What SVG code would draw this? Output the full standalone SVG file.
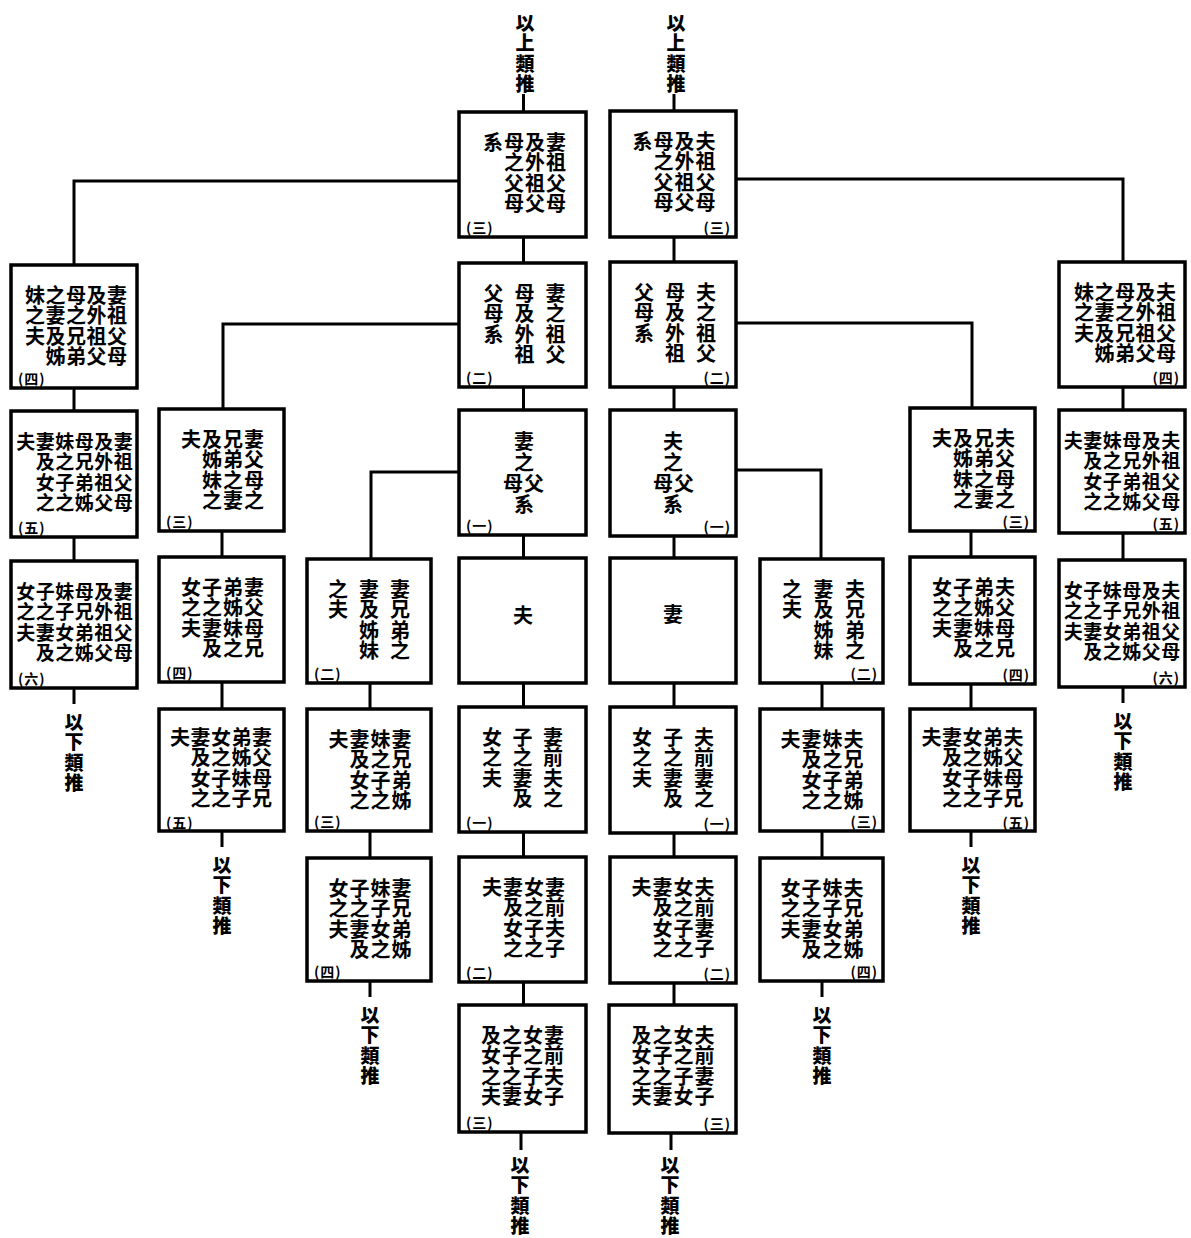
<svg xmlns="http://www.w3.org/2000/svg" width="1191" height="1238" viewBox="0 0 1191 1238">
<style>
.bg{fill:#fff}
.box{fill:#fff;stroke:#000;stroke-width:3.5}
.con{fill:none;stroke:#000;stroke-width:3}
.t{font-family:"Noto Sans CJK TC","Noto Sans CJK SC",sans-serif;font-size:20px;font-weight:700;text-anchor:middle;dominant-baseline:central;fill:#000}
.t6{font-size:19px}
.note{font-family:"Noto Sans CJK TC","Noto Sans CJK SC",sans-serif;font-size:19px;font-weight:900;text-anchor:middle;dominant-baseline:central;fill:#000}
.lab{font-family:"Noto Sans CJK TC","Noto Sans CJK SC",sans-serif;font-size:14px;font-weight:700;dominant-baseline:central;letter-spacing:1px;fill:#000}
.l{text-anchor:start}
.r{text-anchor:end}
</style>
<rect class="bg" x="0" y="0" width="1191" height="1238"/>

<g id="connectors">
<path class="con" d="M523.5 94V112 M523.5 237V263 M523.5 387V410 M523.5 535V558 M523.5 683V707 M523.5 832V857 M523.5 982V1005 M521 1132V1150"/>
<path class="con" d="M674 94V111 M674 237V262 M674 387V410 M674 536V558 M674 683V707 M674 833V857 M674 983V1005 M671 1133V1150"/>
<path class="con" d="M459 181H74V265 M736 179H1123V262 M459 324H223V409 M736 323H972V408 M459 472H371V559 M736 470H821V559"/>
<path class="con" d="M74 388V411 M74 537V561 M74 688V704 M1123 387V410 M1123 533V560 M1123 687V703"/>
<path class="con" d="M222 531V557 M222 682V709 M222 831V847 M971 531V557 M971 684V709 M971 831V847"/>
<path class="con" d="M370 683V709 M370 831V858 M370 981V997 M822 683V709 M822 831V858 M822 981V997"/>
</g>

<g id="notes">
<text class="note" x="525 525 525 525" y="21 41.5 62 82.5">以上類推</text>
<text class="note" x="676 676 676 676" y="21 41.5 62 82.5">以上類推</text>
<text class="note" x="74 74 74 74" y="720 740.5 761 781.5">以下類推</text>
<text class="note" x="1123 1123 1123 1123" y="719 739.5 760 780.5">以下類推</text>
<text class="note" x="222 222 222 222" y="863 883.5 904 924.5">以下類推</text>
<text class="note" x="971 971 971 971" y="863 883.5 904 924.5">以下類推</text>
<text class="note" x="370 370 370 370" y="1013 1033.5 1054 1074.5">以下類推</text>
<text class="note" x="822 822 822 822" y="1013 1033.5 1054 1074.5">以下類推</text>
<text class="note" x="520 520 520 520" y="1163 1183.5 1204 1224.5">以下類推</text>
<text class="note" x="670 670 670 670" y="1163 1183.5 1204 1224.5">以下類推</text>
</g>

<g id="D1"><rect class="box" x="459" y="112" width="127" height="125"/>
<text class="t" x="556 556 556 556 535 535 535 535 514 514 514 514 493" y="141 161.5 182 202.5 141 161.5 182 202.5 141 161.5 182 202.5 141">妻祖父母及外祖父母之父母系</text>
<text class="lab l" x="466" y="227">(三)</text></g>
<g id="E1"><rect class="box" x="610" y="111" width="126" height="126"/>
<text class="t" x="705.5 705.5 705.5 705.5 684.5 684.5 684.5 684.5 663.5 663.5 663.5 663.5 642.5" y="140 160.5 181 201.5 140 160.5 181 201.5 140 160.5 181 201.5 140">夫祖父母及外祖父母之父母系</text>
<text class="lab r" x="731" y="227">(三)</text></g>

<g id="D2"><rect class="box" x="459" y="263" width="127" height="124"/>
<text class="t" x="555.5 555.5 555.5 555.5 524.5 524.5 524.5 524.5 493.5 493.5 493.5" y="292 312.5 333 353.5 292 312.5 333 353.5 292 312.5 333">妻之祖父母及外祖父母系</text>
<text class="lab l" x="466" y="377">(二)</text></g>
<g id="E2"><rect class="box" x="610" y="262" width="126" height="125"/>
<text class="t" x="706 706 706 706 675 675 675 675 644 644 644" y="291 311.5 332 352.5 291 311.5 332 352.5 291 311.5 332">夫之祖父母及外祖父母系</text>
<text class="lab r" x="731" y="377">(二)</text></g>

<g id="D3"><rect class="box" x="459" y="410" width="127" height="125"/>
<text class="t" x="524 524 534 513 524" y="440 461 482 482 503">妻之父母系</text>
<text class="lab l" x="466" y="525">(一)</text></g>
<g id="E3"><rect class="box" x="610" y="410" width="126" height="126"/>
<text class="t" x="673 673 684 663 673" y="440 461 482 482 503">夫之父母系</text>
<text class="lab r" x="731" y="526">(一)</text></g>

<g id="D4"><rect class="box" x="459" y="558" width="127" height="125"/>
<text class="t" x="523" y="614">夫</text></g>
<g id="E4"><rect class="box" x="610" y="558" width="126" height="125"/>
<text class="t" x="673" y="613">妻</text></g>

<g id="D5"><rect class="box" x="459" y="707" width="127" height="125"/>
<text class="t" x="553 553 553 553 522.5 522.5 522.5 522.5 492 492 492" y="736 756.5 777 797.5 736 756.5 777 797.5 736 756.5 777">妻前夫之子之妻及女之夫</text>
<text class="lab l" x="466" y="822">(一)</text></g>
<g id="E5"><rect class="box" x="610" y="707" width="126" height="126"/>
<text class="t" x="704 704 704 704 673 673 673 673 642 642 642" y="736 756.5 777 797.5 736 756.5 777 797.5 736 756.5 777">夫前妻之子之妻及女之夫</text>
<text class="lab r" x="731" y="823">(一)</text></g>

<g id="D6"><rect class="box" x="459" y="857" width="127" height="125"/>
<text class="t" x="555 555 555 555 534 534 534 534 513 513 513 513 492" y="886 906.5 927 947.5 886 906.5 927 947.5 886 906.5 927 947.5 886">妻前夫子女之子之妻及女之夫</text>
<text class="lab l" x="466" y="972">(二)</text></g>
<g id="E6"><rect class="box" x="610" y="857" width="126" height="126"/>
<text class="t" x="704.5 704.5 704.5 704.5 683.5 683.5 683.5 683.5 662.5 662.5 662.5 662.5 641.5" y="886 906.5 927 947.5 886 906.5 927 947.5 886 906.5 927 947.5 886">夫前妻子女之子之妻及女之夫</text>
<text class="lab r" x="731" y="973">(二)</text></g>

<g id="D7"><rect class="box" x="459" y="1005" width="127" height="127"/>
<text class="t" x="554 554 554 554 533 533 533 533 512 512 512 512 491 491 491 491" y="1034 1054.5 1075 1095.5 1034 1054.5 1075 1095.5 1034 1054.5 1075 1095.5 1034 1054.5 1075 1095.5">妻前夫子女之子女之子之妻及女之夫</text>
<text class="lab l" x="466" y="1122">(三)</text></g>
<g id="E7"><rect class="box" x="609" y="1005" width="127" height="128"/>
<text class="t" x="704.5 704.5 704.5 704.5 683.5 683.5 683.5 683.5 662.5 662.5 662.5 662.5 641.5 641.5 641.5 641.5" y="1034 1054.5 1075 1095.5 1034 1054.5 1075 1095.5 1034 1054.5 1075 1095.5 1034 1054.5 1075 1095.5">夫前妻子女之子女之子之妻及女之夫</text>
<text class="lab r" x="731" y="1123">(三)</text></g>

<g id="A2"><rect class="box" x="11" y="265" width="126" height="123"/>
<text class="t" x="117 117 117 117 96.5 96.5 96.5 96.5 76 76 76 76 55.5 55.5 55.5 55.5 35 35 35" y="294 314.5 335 355.5 294 314.5 335 355.5 294 314.5 335 355.5 294 314.5 335 355.5 294 314.5 335">妻祖父母及外祖父母之兄弟之妻及姊妹之夫</text>
<text class="lab l" x="18" y="378">(四)</text></g>
<g id="H2"><rect class="box" x="1059" y="262" width="126" height="125"/>
<text class="t" x="1166 1166 1166 1166 1145.5 1145.5 1145.5 1145.5 1125 1125 1125 1125 1104.5 1104.5 1104.5 1104.5 1084 1084 1084" y="291 311.5 332 352.5 291 311.5 332 352.5 291 311.5 332 352.5 291 311.5 332 352.5 291 311.5 332">夫祖父母及外祖父母之兄弟之妻及姊妹之夫</text>
<text class="lab r" x="1180" y="377">(四)</text></g>

<g id="A3"><rect class="box" x="11" y="411" width="126" height="126"/>
<text class="t t6" x="123.25 123.25 123.25 123.25 103.75 103.75 103.75 103.75 84.25 84.25 84.25 84.25 64.75 64.75 64.75 64.75 45.25 45.25 45.25 45.25 25.75" y="440 460.5 481 501.5 440 460.5 481 501.5 440 460.5 481 501.5 440 460.5 481 501.5 440 460.5 481 501.5 440">妻祖父母及外祖父母兄弟姊妹之子之妻及女之夫</text>
<text class="lab l" x="18" y="527">(五)</text></g>
<g id="H3"><rect class="box" x="1059" y="410" width="126" height="123"/>
<text class="t t6" x="1170.75 1170.75 1170.75 1170.75 1151.25 1151.25 1151.25 1151.25 1131.75 1131.75 1131.75 1131.75 1112.25 1112.25 1112.25 1112.25 1092.75 1092.75 1092.75 1092.75 1073.25" y="439 459.5 480 500.5 439 459.5 480 500.5 439 459.5 480 500.5 439 459.5 480 500.5 439 459.5 480 500.5 439">夫祖父母及外祖父母兄弟姊妹之子之妻及女之夫</text>
<text class="lab r" x="1180" y="523">(五)</text></g>

<g id="A4"><rect class="box" x="11" y="561" width="126" height="127"/>
<text class="t t6" x="123.25 123.25 123.25 123.25 103.75 103.75 103.75 103.75 84.25 84.25 84.25 84.25 64.75 64.75 64.75 64.75 45.25 45.25 45.25 45.25 25.75 25.75 25.75" y="590 610.5 631 651.5 590 610.5 631 651.5 590 610.5 631 651.5 590 610.5 631 651.5 590 610.5 631 651.5 590 610.5 631">妻祖父母及外祖父母兄弟姊妹子女之子之妻及女之夫</text>
<text class="lab l" x="18" y="678">(六)</text></g>
<g id="H4"><rect class="box" x="1059" y="560" width="126" height="127"/>
<text class="t t6" x="1170.75 1170.75 1170.75 1170.75 1151.25 1151.25 1151.25 1151.25 1131.75 1131.75 1131.75 1131.75 1112.25 1112.25 1112.25 1112.25 1092.75 1092.75 1092.75 1092.75 1073.25 1073.25 1073.25" y="589 609.5 630 650.5 589 609.5 630 650.5 589 609.5 630 650.5 589 609.5 630 650.5 589 609.5 630 650.5 589 609.5 630">夫祖父母及外祖父母兄弟姊妹子女之子之妻及女之夫</text>
<text class="lab r" x="1180" y="677">(六)</text></g>

<g id="B3"><rect class="box" x="159" y="409" width="125" height="122"/>
<text class="t" x="254 254 254 254 233 233 233 233 212 212 212 212 191" y="438 458.5 479 499.5 438 458.5 479 499.5 438 458.5 479 499.5 438">妻父母之兄弟之妻及姊妹之夫</text>
<text class="lab l" x="166" y="521">(三)</text></g>
<g id="G3"><rect class="box" x="910" y="408" width="125" height="123"/>
<text class="t" x="1005 1005 1005 1005 984 984 984 984 963 963 963 963 942" y="437 457.5 478 498.5 437 457.5 478 498.5 437 457.5 478 498.5 437">夫父母之兄弟之妻及姊妹之夫</text>
<text class="lab r" x="1030" y="521">(三)</text></g>

<g id="B4"><rect class="box" x="159" y="557" width="125" height="125"/>
<text class="t" x="254 254 254 254 233 233 233 233 212 212 212 212 191 191 191" y="586 606.5 627 647.5 586 606.5 627 647.5 586 606.5 627 647.5 586 606.5 627">妻父母兄弟姊妹之子之妻及女之夫</text>
<text class="lab l" x="166" y="672">(四)</text></g>
<g id="G4"><rect class="box" x="910" y="557" width="125" height="127"/>
<text class="t" x="1005 1005 1005 1005 984 984 984 984 963 963 963 963 942 942 942" y="586 606.5 627 647.5 586 606.5 627 647.5 586 606.5 627 647.5 586 606.5 627">夫父母兄弟姊妹之子之妻及女之夫</text>
<text class="lab r" x="1030" y="674">(四)</text></g>

<g id="B5"><rect class="box" x="159" y="709" width="125" height="122"/>
<text class="t" x="262 262 262 262 241.5 241.5 241.5 241.5 221 221 221 221 200.5 200.5 200.5 200.5 180" y="736 756.5 777 797.5 736 756.5 777 797.5 736 756.5 777 797.5 736 756.5 777 797.5 736">妻父母兄弟姊妹子女之子之妻及女之夫</text>
<text class="lab l" x="166" y="822">(五)</text></g>
<g id="G5"><rect class="box" x="910" y="709" width="125" height="122"/>
<text class="t" x="1013.5 1013.5 1013.5 1013.5 993 993 993 993 972.5 972.5 972.5 972.5 952 952 952 952 931.5" y="736 756.5 777 797.5 736 756.5 777 797.5 736 756.5 777 797.5 736 756.5 777 797.5 736">夫父母兄弟姊妹子女之子之妻及女之夫</text>
<text class="lab r" x="1030" y="822">(五)</text></g>

<g id="C4"><rect class="box" x="307" y="559" width="124" height="124"/>
<text class="t" x="400 400 400 400 369 369 369 369 338 338" y="588 608.5 629 649.5 588 608.5 629 649.5 588 608.5">妻兄弟之妻及姊妹之夫</text>
<text class="lab l" x="314" y="673">(二)</text></g>
<g id="F4"><rect class="box" x="760" y="559" width="123" height="124"/>
<text class="t" x="855 855 855 855 823.5 823.5 823.5 823.5 792 792" y="588 608.5 629 649.5 588 608.5 629 649.5 588 608.5">夫兄弟之妻及姊妹之夫</text>
<text class="lab r" x="878" y="673">(二)</text></g>

<g id="C5"><rect class="box" x="307" y="709" width="124" height="122"/>
<text class="t" x="401.5 401.5 401.5 401.5 380.5 380.5 380.5 380.5 359.5 359.5 359.5 359.5 338.5" y="738 758.5 779 799.5 738 758.5 779 799.5 738 758.5 779 799.5 738">妻兄弟姊妹之子之妻及女之夫</text>
<text class="lab l" x="314" y="821">(三)</text></g>
<g id="F5"><rect class="box" x="760" y="709" width="123" height="122"/>
<text class="t" x="853.5 853.5 853.5 853.5 832.5 832.5 832.5 832.5 811.5 811.5 811.5 811.5 790.5" y="738 758.5 779 799.5 738 758.5 779 799.5 738 758.5 779 799.5 738">夫兄弟姊妹之子之妻及女之夫</text>
<text class="lab r" x="878" y="821">(三)</text></g>

<g id="C6"><rect class="box" x="307" y="858" width="124" height="123"/>
<text class="t" x="401.5 401.5 401.5 401.5 380.5 380.5 380.5 380.5 359.5 359.5 359.5 359.5 338.5 338.5 338.5" y="887 907.5 928 948.5 887 907.5 928 948.5 887 907.5 928 948.5 887 907.5 928">妻兄弟姊妹子女之子之妻及女之夫</text>
<text class="lab l" x="314" y="971">(四)</text></g>
<g id="F6"><rect class="box" x="760" y="858" width="123" height="123"/>
<text class="t" x="853.5 853.5 853.5 853.5 832.5 832.5 832.5 832.5 811.5 811.5 811.5 811.5 790.5 790.5 790.5" y="887 907.5 928 948.5 887 907.5 928 948.5 887 907.5 928 948.5 887 907.5 928">夫兄弟姊妹子女之子之妻及女之夫</text>
<text class="lab r" x="878" y="971">(四)</text></g>
</svg>
